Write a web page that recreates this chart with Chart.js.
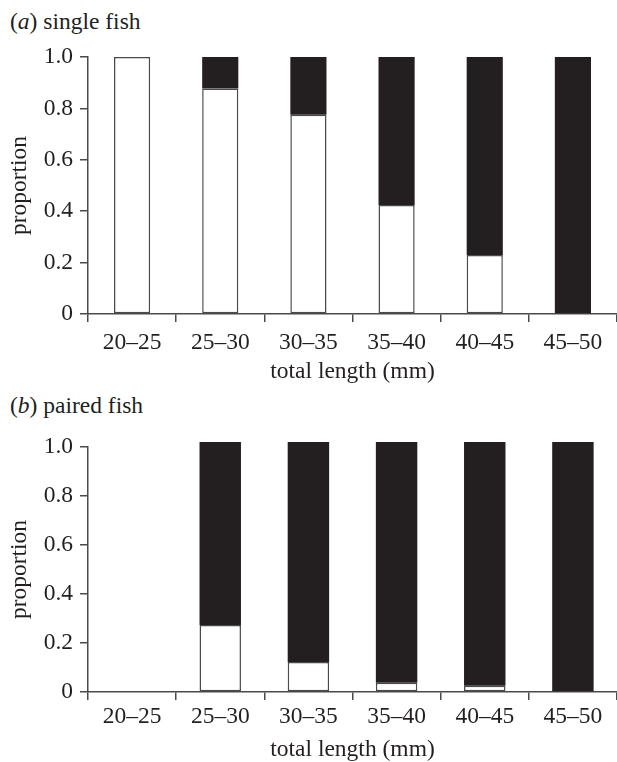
<!DOCTYPE html>
<html>
<head>
<meta charset="utf-8">
<script src="https://cdn.jsdelivr.net/npm/chart.js@4.4.1/dist/chart.umd.min.js"></script>
<style>
  html, body { margin: 0; padding: 0; background: #ffffff; }
  #wrap { position: relative; width: 617px; height: 762px; overflow: hidden; font-family: 'Liberation Serif', 'Times New Roman', serif; color: #231f20; }
  .ptitle { position: absolute; left: 10px; font-size: 23.5px; line-height: 24px; white-space: nowrap; }
  canvas { position: absolute; left: 0; }
</style>
</head>
<body>
<div id="wrap">
  <div class="ptitle" style="top:9px;">(<i>a</i>) single fish</div>
  <canvas id="chartA" width="617" height="384" style="top:0px;"></canvas>
  <div class="ptitle" style="top:393px;">(<i>b</i>) paired fish</div>
  <canvas id="chartB" width="617" height="378" style="top:384px;"></canvas>
</div>
<script>
// ---- data ----
const categories = ['20–25', '25–30', '30–35', '35–40', '40–45', '45–50'];
const yTickLabels = ['0', '0.2', '0.4', '0.6', '0.8', '1.0'];
const xAxisTitle = 'total length (mm)';
const yAxisTitle = 'proportion';

// (a) single fish: white = lower (open) segment, black = upper (filled) segment
const singleWhite = [1.0, 0.877, 0.775, 0.424, 0.23, 0];
const singleBlack = [0, 0.123, 0.225, 0.576, 0.77, 1.0];

// (b) paired fish
const pairedWhite = [null, 0.273, 0.122, 0.038, 0.026, 0];
const pairedBlack = [null, 0.747, 0.898, 0.982, 0.994, 1.02];

// ---- styling ----
const INK = '#231f20';
const AXIS = '#4a4a4a';
const FS = 23.5;
Chart.defaults.font.family = "'Liberation Serif', 'Times New Roman', serif";
Chart.defaults.color = INK;

function makeChart(id, white, black, cfg) {
  const ctx = document.getElementById(id);
  return new Chart(ctx, {
    type: 'bar',
    data: {
      labels: categories,
      datasets: [
        {
          label: 'open',
          data: white,
          backgroundColor: '#ffffff',
          borderColor: AXIS,
          borderWidth: 1.5,
          borderSkipped: false,
          clip: false,
          barPercentage: cfg.barPct,
          categoryPercentage: 1.0
        },
        {
          label: 'filled',
          data: black,
          backgroundColor: INK,
          borderWidth: 0,
          clip: false,
          barPercentage: cfg.barPct,
          categoryPercentage: 1.0
        }
      ]
    },
    options: {
      responsive: false,
      animation: false,
      devicePixelRatio: 1,
      layout: { padding: { top: cfg.top, right: 0, bottom: 0, left: 0 } },
      plugins: { legend: { display: false }, tooltip: { enabled: false }, title: { display: false } },
      scales: {
        x: {
          stacked: true,
          offset: true,
          afterFit: s => { s.height = cfg.xHeight; },
          grid: { offset: true, drawOnChartArea: false, drawTicks: true, tickLength: 8, color: AXIS, lineWidth: 1.5 },
          border: { display: true, color: AXIS, width: 1.5 },
          ticks: { font: { size: FS }, color: INK, padding: cfg.xTickPad, maxRotation: 0, autoSkip: false },
          title: { display: true, text: xAxisTitle, color: INK, font: { size: FS, lineHeight: 1.05 }, padding: { top: 0, bottom: 0 } }
        },
        y: {
          stacked: true,
          min: 0,
          max: 1,
          afterFit: s => { s.width = 88; },
          grid: { drawOnChartArea: false, drawTicks: true, tickLength: 8, color: AXIS, lineWidth: 1.5 },
          border: { display: true, color: AXIS, width: 1.5 },
          ticks: {
            stepSize: 0.2,
            font: { size: FS },
            color: INK,
            padding: 7,
            callback: (v, i) => yTickLabels[i]
          },
          title: { display: true, text: yAxisTitle, color: INK, font: { size: FS, lineHeight: 1.05 }, padding: { top: 7, bottom: 0 } }
        }
      }
    }
  });
}

makeChart('chartA', singleWhite, singleBlack, { top: 57, xHeight: 70, xTickPad: 7, barPct: 0.41 });
makeChart('chartB', pairedWhite, pairedBlack, { top: 63, xHeight: 70, xTickPad: 3, barPct: 0.47 });
</script>
</body>
</html>
